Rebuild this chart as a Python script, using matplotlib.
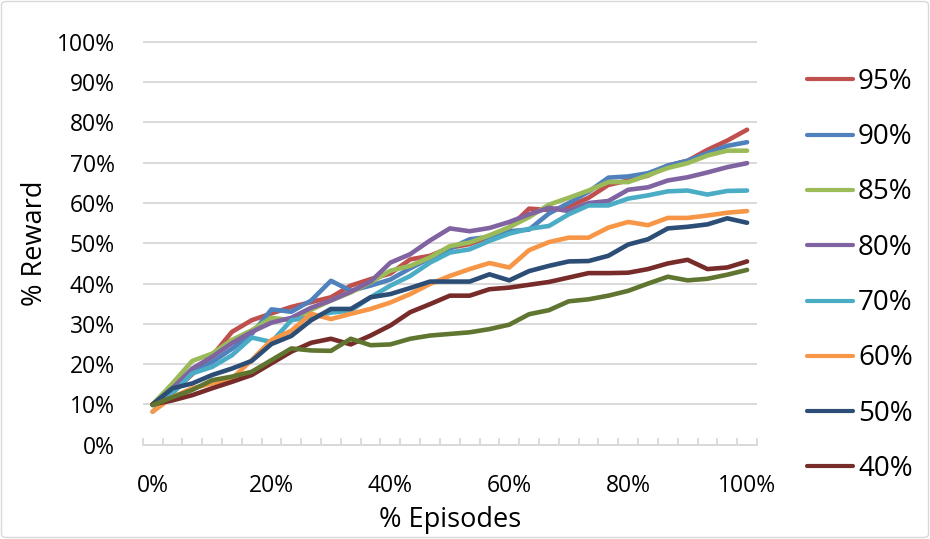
import matplotlib
matplotlib.use("Agg")
import matplotlib.pyplot as plt
from matplotlib.lines import Line2D
from matplotlib.patches import FancyBboxPatch
import numpy as np

plt.rcParams['font.family'] = ['Open Sans', 'DejaVu Sans']

# Reward (%) at each of the 31 evenly spaced episode checkpoints
reward_95 = [10.0, 13.0, 17.5, 22.0, 28.0, 30.9, 32.6, 34.2, 35.4, 36.6, 39.5,
             41.1, 42.5, 46.0, 46.9, 48.9, 49.8, 51.6, 53.9, 58.6, 58.3,
             59.1, 61.3, 64.5, 65.6, 66.8, 69.3, 70.5, 73.2, 75.5, 78.2]
reward_90 = [10.0, 13.5, 18.5, 20.5, 23.8, 27.5, 33.6, 33.0, 35.8, 40.7, 38.2,
             39.5, 41.0, 43.8, 46.3, 48.7, 51.0, 51.6, 53.0, 53.4, 57.4,
             60.0, 62.8, 66.3, 66.6, 67.4, 69.3, 70.5, 72.4, 74.2, 75.1]
reward_85 = [10.0, 15.2, 20.8, 22.6, 26.0, 28.4, 31.5, 30.9, 33.5, 35.8, 37.8,
             40.3, 43.2, 44.4, 46.5, 49.3, 50.2, 52.0, 54.0, 56.5, 59.6,
             61.3, 63.1, 65.2, 65.2, 66.9, 68.7, 69.9, 71.8, 73.0, 73.0]
reward_80 = [10.0, 14.0, 18.9, 21.8, 25.2, 28.0, 30.3, 31.5, 34.0, 35.8, 38.0,
             40.5, 45.2, 47.3, 50.7, 53.7, 53.0, 53.8, 55.3, 57.2, 58.8,
             58.0, 60.0, 60.5, 63.3, 63.9, 65.6, 66.4, 67.6, 68.9, 69.9]
reward_70 = [8.2, 12.7, 17.7, 19.3, 22.2, 26.6, 25.5, 30.9, 31.7, 32.8, 33.3,
             36.6, 39.5, 41.9, 45.2, 47.7, 48.5, 50.6, 52.4, 53.6, 54.3,
             57.2, 59.4, 59.4, 61.1, 61.9, 62.9, 63.1, 62.1, 63.0, 63.1]
reward_60 = [8.2, 11.8, 14.0, 15.2, 16.4, 21.0, 26.0, 28.3, 32.5, 31.2, 32.5,
             33.7, 35.3, 37.4, 39.9, 41.9, 43.6, 45.1, 44.0, 48.3, 50.3,
             51.4, 51.4, 53.9, 55.3, 54.5, 56.3, 56.3, 56.9, 57.6, 58.0]
reward_50 = [10.0, 14.0, 15.2, 17.3, 18.9, 20.8, 25.0, 27.0, 30.9, 33.7, 33.7,
             36.6, 37.4, 38.9, 40.5, 40.5, 40.5, 42.3, 40.8, 43.1, 44.4,
             45.5, 45.6, 46.9, 49.7, 51.0, 53.7, 54.1, 54.7, 56.2, 55.1]
reward_40 = [10.0, 11.0, 12.3, 14.0, 15.6, 17.3, 20.2, 23.1, 25.3, 26.3, 24.9,
             27.1, 29.6, 32.9, 34.9, 37.0, 37.0, 38.6, 39.0, 39.7, 40.4,
             41.5, 42.6, 42.6, 42.7, 43.6, 45.0, 45.9, 43.6, 44.0, 45.5]
reward_30 = [9.8, 11.8, 13.6, 16.0, 16.9, 18.1, 21.0, 23.9, 23.4, 23.3, 26.3,
             24.7, 24.9, 26.3, 27.1, 27.5, 27.9, 28.7, 29.8, 32.4, 33.4,
             35.6, 36.1, 37.0, 38.2, 40.0, 41.7, 40.8, 41.2, 42.2, 43.4]

series_labels = ["95%", "90%", "85%", "80%", "70%", "60%", "50%", "40%", "30%"]
series_values = [reward_95, reward_90, reward_85, reward_80, reward_70,
                 reward_60, reward_50, reward_40, reward_30]
series_colors = ["#C0504D", "#4F81BD", "#9BBB59", "#8064A2", "#4BACC6",
                 "#F79646", "#2C4D75", "#772C2A", "#5F7530"]
legend_count = 8

x_label_positions = [0, 6, 12, 18, 24, 30]
x_tick_labels = ["0%", "20%", "40%", "60%", "80%", "100%"]
y_tick_values = [0.0, 0.1, 0.2, 0.3, 0.4, 0.5, 0.6, 0.7, 0.8, 0.9, 1.0]
y_tick_labels = ["0%", "10%", "20%", "30%", "40%", "50%", "60%", "70%",
                 "80%", "90%", "100%"]

W, H = 930, 539
fig = plt.figure(figsize=(W / 100, H / 100), dpi=100)

# chart-area frame
fig.add_artist(FancyBboxPatch((1.5 / W, 1.5 / H), (W - 3) / W, (H - 3) / H,
                              boxstyle="round,pad=0,rounding_size=0.006",
                              transform=fig.transFigure, fill=False,
                              edgecolor="#D9D9D9", lw=1.0))

ax = fig.add_axes([142.7 / W, 1 - 444.7 / H, 614.3 / W, 404 / H])

grid_c = "#D9D9D9"
for vals, color in zip(series_values, series_colors):
    xs = np.arange(len(vals))
    ax.plot(xs, np.asarray(vals) / 100.0, color=color, lw=3.3,
            solid_joinstyle="round", solid_capstyle="round", zorder=3)

ax.set_xlim(-0.5, 30.5)
ax.set_ylim(0, 1.003)

ax.set_yticks(y_tick_values)
ax.set_yticklabels(y_tick_labels)
ax.yaxis.grid(True, color=grid_c, lw=1.4)
ax.set_axisbelow(True)
ax.tick_params(axis="y", length=0, pad=20, labelsize=16.5, labelcolor="black")

ax.set_xticks(x_label_positions)
ax.set_xticklabels(x_tick_labels)
ax.set_xticks(np.arange(-0.5, 31.0, 1.0), minor=True)
ax.tick_params(axis="x", which="major", length=0, pad=21, labelsize=16.5,
               labelcolor="black")
ax.tick_params(axis="x", which="minor", direction="in", length=5, width=1.3,
               color=grid_c)

for side in ("left", "right", "top"):
    ax.spines[side].set_visible(False)
ax.spines["bottom"].set_color(grid_c)
ax.spines["bottom"].set_linewidth(1.4)

fig.text(35 / W, 1 - 243 / H, "% Reward", rotation=90, ha="center",
         va="center", fontsize=19.5, color="black")
fig.text(450 / W, 1 - 520 / H, "% Episodes", ha="center", va="center",
         fontsize=19.5, color="black")

# legend column on the right
for k in range(legend_count):
    yc = 79.3 + 55.3 * k
    fig.add_artist(Line2D([807 / W, 853 / W], [1 - yc / H, 1 - yc / H],
                          transform=fig.transFigure, color=series_colors[k],
                          lw=3.0, solid_capstyle="round"))
    fig.text(858 / W, 1 - (yc + 9.5) / H, series_labels[k], ha="left",
             va="baseline", fontsize=20, color="black")

fig.savefig("out.png", dpi=100)
